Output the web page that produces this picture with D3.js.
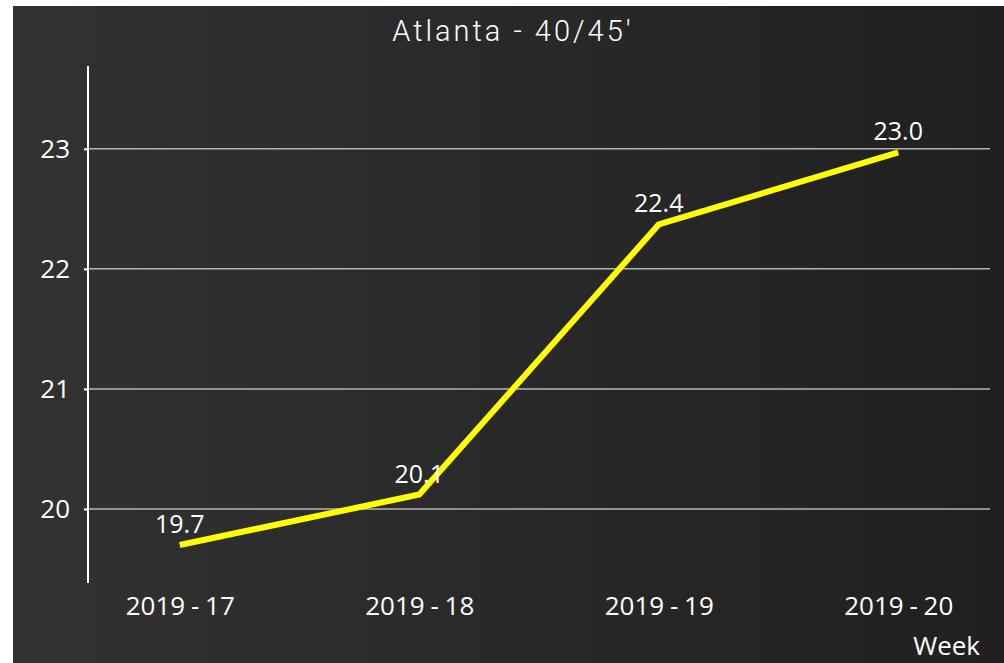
<!DOCTYPE html>
<html>
<head>
<meta charset="utf-8">
<script src="https://cdn.jsdelivr.net/npm/d3@7"></script>
<style>
  html, body { margin: 0; padding: 0; background: #ffffff; }
  svg { display: block; }
  text { fill: #ffffff; font-family: "Open Sans", "Noto Sans", sans-serif; }
</style>
</head>
<body>
<svg id="chart" width="1004" height="663"></svg>
<script>
// chart data
var weeks = ['2019 - 17', '2019 - 18', '2019 - 19', '2019 - 20'];
var values = [19.70, 20.12, 22.37, 22.97];
var labels = ['19.7', '20.1', '22.4', '23.0'];
var yTicks = [20, 21, 22, 23];

var width = 1004, height = 663;
var svg = d3.select('#chart');

// panel background (dark gradient)
var defs = svg.append('defs');
var grad = defs.append('linearGradient').attr('id', 'bg').attr('x1', '0%').attr('x2', '100%').attr('y1', '0%').attr('y2', '0%');
grad.append('stop').attr('offset', '0%').attr('stop-color', '#323232');
grad.append('stop').attr('offset', '100%').attr('stop-color', '#202020');
svg.append('rect').attr('x', 13).attr('y', 6).attr('width', width - 13).attr('height', height - 6).attr('fill', 'url(#bg)');

var margin = {left: 88, right: 14, top: 66, bottom: 80};

var x = d3.scalePoint()
    .domain(weeks)
    .range([margin.left, width - margin.right])
    .padding(0.383);

var y = d3.scaleLinear()
    .domain([19.383, 23.69])
    .range([height - margin.bottom, margin.top]);

// title
svg.append('text')
    .attr('x', 513).attr('y', 41)
    .attr('text-anchor', 'middle')
    .style('font-family', 'Roboto, sans-serif')
    .style('font-weight', 300)
    .style('font-size', '29px')
    .style('letter-spacing', '3px')
    .text("Atlanta - 40/45'");

// gridlines
svg.append('g').selectAll('line').data(yTicks).enter().append('line')
    .attr('x1', margin.left).attr('x2', width - margin.right)
    .attr('y1', function(d) { return y(d); })
    .attr('y2', function(d) { return y(d); })
    .attr('stroke', '#b4b4b4').attr('stroke-width', 1.5);

// y axis
var yAxis = svg.append('g')
    .attr('transform', 'translate(' + margin.left + ',0)')
    .call(d3.axisLeft(y).tickValues(yTicks).tickSize(4).tickPadding(14).tickFormat(d3.format('d')));
yAxis.select('.domain').remove();
yAxis.selectAll('.tick line').attr('stroke', '#ffffff').attr('stroke-width', 2);
yAxis.selectAll('.tick text').style('font-size', '26px').attr('fill', '#ffffff');
yAxis.append('line')
    .attr('x1', 0).attr('x2', 0)
    .attr('y1', y.range()[1]).attr('y2', y.range()[0])
    .attr('stroke', '#ffffff').attr('stroke-width', 2);

// x axis
var xAxis = svg.append('g')
    .attr('transform', 'translate(0,' + (height - margin.bottom) + ')')
    .call(d3.axisBottom(x).tickSize(0).tickPadding(14));
xAxis.select('.domain').remove();
xAxis.selectAll('.tick text')
    .style('font-size', '26px')
    .style('word-spacing', '-1px')
    .attr('fill', '#ffffff');

svg.append('text')
    .attr('x', 980).attr('y', 655)
    .attr('text-anchor', 'end')
    .style('font-size', '26px')
    .text('Week');

// series line
var line = d3.line()
    .x(function(d, i) { return x(weeks[i]); })
    .y(function(d) { return y(d); });

svg.append('path')
    .datum(values)
    .attr('d', line)
    .attr('fill', 'none')
    .attr('stroke', '#ffff00')
    .attr('stroke-width', 6)
    .attr('stroke-linejoin', 'miter');

// data labels
svg.append('g').selectAll('text').data(values).enter().append('text')
    .attr('x', function(d, i) { return x(weeks[i]); })
    .attr('y', function(d) { return y(d) - 12; })
    .attr('text-anchor', 'middle')
    .style('font-size', '25px')
    .text(function(d, i) { return labels[i]; });
</script>
</body>
</html>
